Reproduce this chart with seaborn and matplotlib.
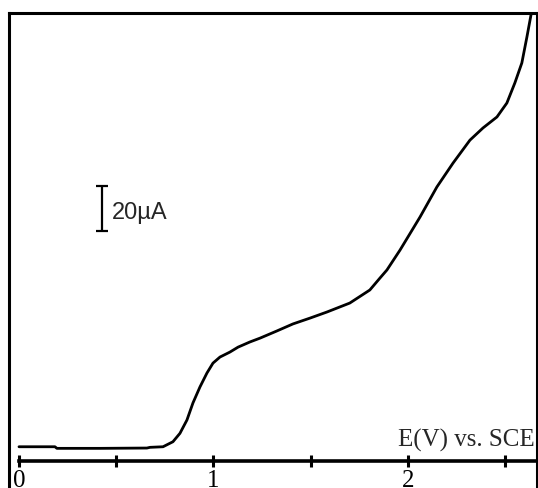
import matplotlib
matplotlib.use("Agg")
import matplotlib.pyplot as plt
import seaborn as sns
import pandas as pd

# Potential (V vs. SCE) and current (µA, relative to baseline)
potential = [0.000, 0.185, 0.195, 0.417, 0.658, 0.674, 0.741, 0.792, 0.828, 0.864,
             0.895, 0.931, 0.967, 0.998, 1.034, 1.085, 1.127, 1.188, 1.240, 1.327,
             1.409, 1.497, 1.584, 1.702, 1.805, 1.857, 1.893, 1.960, 2.063, 2.150,
             2.233, 2.320, 2.387, 2.459, 2.510, 2.551, 2.587, 2.613, 2.634]
current = [0.13, 0.13, -0.58, -0.58, -0.44, -0.13, 0.13, 2.36, 6.09, 12.0,
           19.6, 26.7, 32.9, 37.3, 40.0, 42.2, 44.4, 46.7, 48.4, 51.6,
           54.7, 57.3, 60.0, 64.0, 69.8, 75.1, 78.7, 87.5, 102.2, 115.6,
           126.2, 136.4, 141.8, 146.7, 152.9, 161.8, 170.7, 182.2, 192.0]
tick_values = [0, 0.5, 1, 1.5, 2, 2.5]
tick_labels = ["0", "", "1", "", "2", ""]
x_label = "E(V) vs. SCE"
scale_label = "20µA"
scale_value = 20

df = pd.DataFrame({"E": potential, "I": current})

sns.set_style("white")
plt.rcParams["font.family"] = ["DejaVu Sans"]

fig = plt.figure(figsize=(5.38, 4.88), dpi=100)
ax = fig.add_axes([9 / 538, 0, 528 / 538, 475 / 488])

sns.lineplot(data=df, x="E", y="I", sort=False, estimator=None, color="black",
             linewidth=2.0, ax=ax)

ax.set_xlim(-0.0514, 2.665)
ax.set_ylim(-18.2, 192.9)

for side in ["left", "top", "right"]:
    ax.spines[side].set_linewidth(2.2)
    ax.spines[side].set_color("black")
ax.spines["bottom"].set_position(("data", -6.2))
ax.spines["bottom"].set_bounds(0, 2.665)
ax.spines["bottom"].set_linewidth(2.6)
ax.spines["bottom"].set_color("black")

ax.set_xticks(tick_values)
ax.set_xticklabels(tick_labels, fontfamily="Liberation Serif", fontsize=18)
ax.tick_params(axis="x", direction="inout", length=9, width=2.2, pad=2,
               colors="black", bottom=True)
ax.set_yticks([])
ax.set_xlabel("")
ax.set_ylabel("")

ax.text((535 - 9) / 528, (488 - 447) / 475, x_label, transform=ax.transAxes,
        ha="right", va="baseline", fontfamily="Liberation Serif", fontsize=18)

# scale bar
ax.errorbar([0.427], [105.8], yerr=scale_value / 2,
            color="black", capsize=4, elinewidth=1.6, capthick=1.6, fmt="none")
ax.text(0.478, 104.0, scale_label, ha="left", va="center",
        fontfamily="Liberation Sans", fontsize=17)

fig.savefig("out.png", dpi=100)
